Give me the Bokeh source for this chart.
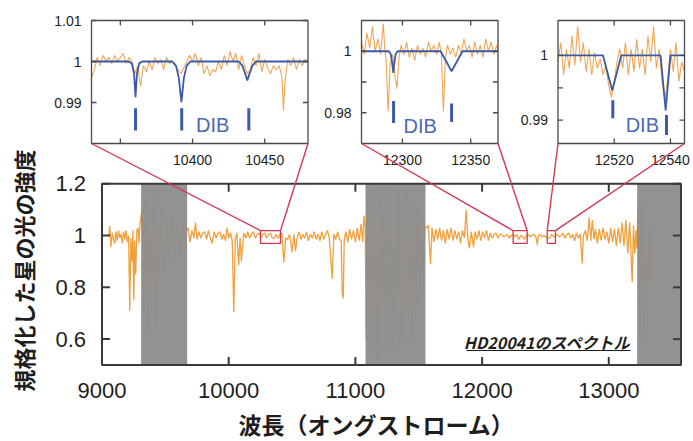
import numpy as np
from bokeh.plotting import figure
from bokeh.models import Range1d
from bokeh.core.properties import value
from bokeh.embed import file_html
from bokeh.resources import INLINE

# ------------------------------------------------------------------ data
# main spectrum (wavelength in Angstrom, normalized flux)
seg_a_wl = [9054, 9062, 9070, 9080, 9090, 9100, 9110, 9120, 9130, 9140, 9150, 9160, 9170, 9180,
            9190, 9200, 9210, 9219, 9228, 9236, 9244, 9251, 9258, 9266, 9275, 9284, 9292, 9300]
seg_a_fx = [1.00, 1.038, 0.955, 1.01, 0.985, 0.97, 1.015, 0.98, 1.02, 0.99, 1.005, 0.97, 1.015, 0.985,
            1.02, 0.975, 1.00, 0.71, 0.99, 0.90, 1.02, 0.75, 0.98, 0.85, 1.02, 1.03, 0.97, 1.045]
band1_wl = [9315, 9330, 9345, 9360, 9375, 9390, 9405, 9420, 9435, 9450, 9470, 9490, 9510, 9530,
            9550, 9570, 9590, 9610, 9630, 9650, 9668]
band1_fx = [1.10, 0.70, 1.15, 0.60, 1.12, 0.75, 1.18, 0.65, 1.05, 0.80, 1.10, 0.85, 1.05, 0.90,
            1.08, 0.88, 1.04, 0.92, 1.06, 0.95, 1.02]
seg_b_wl = [9680, 9695, 9710, 9725, 9738, 9750, 9765, 9780, 9795, 9810, 9825, 9840, 9855, 9870,
            9885, 9900, 9915, 9930, 9945, 9960, 9975, 9988, 10000, 10015, 10028, 10040, 10052,
            10065, 10078, 10090, 10100, 10110, 10120, 10135, 10150, 10165, 10180, 10195, 10210,
            10225, 10240, 10255, 10270, 10285, 10300, 10315, 10330, 10345, 10360, 10375, 10390,
            10405, 10420, 10435, 10450, 10465, 10480, 10501, 10515, 10527, 10540, 10555, 10570,
            10585, 10600, 10615, 10630, 10645, 10660, 10675, 10690, 10705, 10720, 10735, 10750,
            10765, 10780, 10795, 10817, 10830, 10845, 10860, 10875, 10888, 10896, 10904, 10912,
            10925, 10940, 10955, 10970, 10985, 11000, 11015, 11030, 11045, 11058, 11068, 11078]
seg_b_fx = [1.03, 0.975, 1.02, 0.99, 1.05, 0.985, 1.015, 0.99, 1.01, 1.015, 0.985, 1.02, 0.99, 0.97,
            1.015, 0.99, 1.01, 1.015, 0.985, 1.005, 0.98, 1.03, 0.99, 1.01, 0.98, 0.705, 0.99,
            1.01, 0.885, 0.99, 0.90, 0.96, 1.01, 0.99, 1.015, 0.99, 1.005, 1.015, 0.99,
            1.005, 1.01, 0.99, 1.005, 1.01, 0.99, 1.005, 1.01, 0.99, 0.99, 1.005, 0.99,
            1.005, 1.01, 0.897, 0.99, 0.985, 1.005, 0.936, 1.005, 0.94, 0.99, 1.015, 0.985,
            1.005, 0.99, 1.015, 0.98, 1.005, 0.99, 1.015, 0.985, 1.005, 0.98, 1.015, 0.985,
            1.005, 1.02, 0.985, 0.833, 1.005, 0.985, 1.015, 0.985, 0.98, 0.782, 0.757, 0.985,
            1.015, 0.975, 1.025, 0.985, 1.02, 0.975, 1.03, 0.98, 1.045, 0.975, 1.077, 1.03]
band2_wl = [11085, 11100, 11115, 11130, 11145, 11160, 11175, 11190, 11205, 11220, 11235, 11250,
            11265, 11280, 11295, 11310, 11325, 11340, 11355, 11370, 11385, 11400, 11415, 11430,
            11445, 11460, 11475, 11490, 11505, 11520, 11535, 11548]
band2_fx = [0.60, 1.15, 0.55, 1.18, 0.62, 1.12, 0.52, 1.20, 0.58, 1.10, 0.54, 1.16,
            0.60, 1.19, 0.56, 1.12, 0.63, 1.17, 0.55, 1.14, 0.60, 1.18, 0.66, 1.12,
            0.58, 1.15, 0.70, 1.10, 0.75, 1.08, 0.85, 1.03]
seg_c_wl = [11560, 11575, 11593, 11605, 11620, 11635, 11650, 11665, 11680, 11695, 11710, 11725,
            11740, 11755, 11770, 11785, 11800, 11815, 11830, 11845, 11860, 11875, 11888, 11900,
            11915, 11932, 11945, 11960, 11975, 11990, 12005, 12020, 12035, 12050, 12065, 12080,
            12095, 12110, 12125, 12140, 12155, 12170, 12185, 12200, 12215, 12230, 12245, 12260,
            12275, 12290, 12305, 12320, 12335, 12350, 12365, 12380, 12395, 12410, 12425, 12435,
            12445, 12460, 12475, 12490, 12505, 12520, 12535, 12550, 12565, 12580, 12595, 12610,
            12625, 12640, 12655, 12670, 12685, 12700, 12715, 12730, 12745, 12760, 12775, 12790,
            12800, 12815, 12830, 12845, 12858, 12870, 12883, 12895, 12910, 12925, 12940, 12955,
            12970, 12985, 13000, 13015, 13030, 13045, 13060, 13075, 13090, 13105, 13120, 13135,
            13150, 13165, 13185, 13195, 13205, 13215, 13222]
seg_c_fx = [1.03, 1.04, 0.89, 1.03, 0.975, 1.025, 0.985, 1.03, 0.98, 1.02, 0.97, 1.025,
            0.985, 1.03, 0.98, 1.02, 0.985, 1.015, 0.97, 1.02, 0.99, 1.10, 0.985, 0.95,
            1.015, 0.955, 1.015, 0.985, 1.02, 0.98, 1.015, 0.99, 1.02, 0.98, 1.01, 0.99,
            1.005, 1.01, 0.99, 1.005, 1.005, 0.995, 1.00, 1.005, 0.99, 1.00, 1.005, 0.995,
            1.005, 0.985, 1.00, 0.995, 0.985, 1.00, 1.005, 0.995, 1.00, 1.005, 0.995, 0.965,
            1.00, 1.005, 0.995, 1.00, 0.995, 0.99, 0.99, 1.005, 0.995, 1.00, 1.005, 0.995,
            1.00, 1.01, 0.99, 1.005, 1.01, 0.99, 1.005, 0.98, 1.01, 0.99, 1.005, 0.892,
            1.00, 1.02, 0.98, 1.07, 0.98, 1.06, 0.985, 1.025, 0.97, 1.025, 0.98, 1.03,
            0.985, 1.015, 0.97, 1.03, 0.975, 1.025, 0.96, 1.03, 0.97, 1.05, 0.96, 1.06,
            0.93, 1.05, 0.82, 1.04, 0.93, 1.02, 0.95]
band3_wl = [13230, 13245, 13260, 13275, 13290, 13305, 13320, 13335]
band3_fx = [1.12, 0.62, 1.15, 0.58, 1.10, 0.70, 1.05, 0.85]

# telluric (masked) regions
band_start = [9309, 11080, 13224]
band_end = [9672, 11553, 13570]

# zoom boxes drawn on the main spectrum
zoom_x0 = [10251, 12245, 12514]
zoom_x1 = [10409, 12356, 12579]
zoom_y0 = [0.970, 0.970, 0.970]
zoom_y1 = [1.019, 1.019, 1.019]

# main axes ticks
main_xticks = [9000, 10000, 11000, 12000, 13000]
main_xlabels = ["9000", "10000", "11000", "12000", "13000"]
main_yticks = [0.6, 0.8, 1.0, 1.2]
main_ylabels = ["0.6", "0.8", "1", "1.2"]

# inset 1
in1_wl = [10330, 10332, 10334, 10336, 10338, 10340, 10342, 10344, 10346, 10348, 10350, 10352,
          10354, 10356, 10358, 10360, 10362, 10364, 10366, 10368, 10370, 10372, 10374, 10376,
          10378, 10380, 10382, 10384, 10386, 10388, 10390, 10392, 10394, 10396, 10398, 10400,
          10402, 10404, 10406, 10408, 10410, 10412, 10414, 10416, 10418, 10420, 10422, 10424,
          10426, 10428, 10430, 10432, 10434, 10436, 10438, 10440, 10442, 10444, 10446, 10448,
          10450, 10452, 10454, 10456, 10458, 10460, 10462, 10463, 10464, 10466, 10468, 10470,
          10472, 10474, 10476, 10478, 10480]
in1_fx = [0.996, 0.998, 1.001, 0.999, 1.0015, 1.000, 1.001, 0.9995, 1.0015, 1.000, 1.001, 1.002,
          0.9995, 1.001, 1.000, 0.997, 0.999, 0.994, 0.999, 0.9975, 1.000, 0.998, 1.001, 0.9995,
          1.0005, 0.998, 1.001, 0.9995, 1.000, 0.999, 0.998, 0.997, 0.9985, 1.000, 1.0015, 1.000,
          1.002, 0.999, 1.001, 0.997, 0.999, 0.9965, 0.998, 0.9975, 1.000, 0.998, 1.0015, 0.999,
          1.0025, 1.000, 1.002, 0.998, 1.0015, 0.999, 0.997, 0.998, 1.001, 0.999, 1.002, 0.9975,
          1.0005, 0.9985, 0.997, 0.999, 0.998, 0.999, 0.996, 0.988, 0.995, 1.0005, 0.999, 1.001,
          0.998, 1.0005, 0.999, 1.0005, 1.000]
in1_model_wl = [10330, 10356, 10358, 10359.5, 10360.5, 10361.5, 10363, 10365, 10386, 10388.5,
                10390.5, 10392.3, 10394, 10396, 10398.5, 10432, 10434.5, 10436.5, 10438,
                10439.5, 10441.5, 10444, 10480]
in1_model_fx = [1, 1, 0.9995, 0.997, 0.9913, 0.997, 0.9995, 1, 1, 0.999,
                0.996, 0.9901, 0.996, 0.999, 1, 1, 0.999, 0.997, 0.9954,
                0.997, 0.999, 1, 1]
in1_dib = [10360.5, 10392.5, 10439]
in1_dib_lo = [0.9832, 0.9832, 0.9832]
in1_dib_hi = [0.9886, 0.9886, 0.9886]
in1_xticks = [10350, 10400, 10450]
in1_xlabels = ["", "10400", "10450"]
in1_yticks = [0.99, 1.0, 1.01]
in1_ylabels = ["0.99", "1", "1.01"]

# inset 2
in2_wl = [12270, 12272, 12274, 12276, 12278, 12280, 12282, 12284, 12286, 12287, 12288, 12289.5,
          12291, 12293, 12294.5, 12296, 12297.5, 12299, 12301, 12303, 12305, 12307, 12309, 12311,
          12313, 12315, 12317, 12319, 12321, 12323, 12325, 12327, 12328.5, 12330, 12331.5, 12333,
          12335, 12337, 12339, 12341, 12343, 12345, 12347, 12349, 12351, 12353, 12355, 12357,
          12359, 12361, 12363, 12365, 12367, 12369, 12370]
in2_fx = [1.003, 0.999, 1.006, 1.001, 1.008, 1.000, 1.004, 0.999, 1.009, 1.001, 0.997, 0.9805,
          0.996, 0.999, 0.992, 0.9878, 0.998, 1.002, 0.999, 1.003, 0.998, 1.001, 0.997, 1.002,
          0.999, 1.001, 0.998, 1.003, 1.000, 1.002, 0.999, 1.003, 0.999, 0.9805, 0.998, 1.002,
          0.999, 1.001, 0.998, 1.002, 0.999, 1.004, 1.000, 1.002, 0.998, 1.003, 0.999, 1.002,
          0.998, 1.004, 1.000, 1.003, 0.999, 1.002, 1.000]
in2_model_wl = [12270, 12290, 12291.5, 12292.5, 12293.3, 12294, 12295, 12296.5, 12328, 12336,
                12344, 12370]
in2_model_fx = [1, 1, 0.999, 0.996, 0.993, 0.996, 0.999, 1, 1, 0.9935, 1, 1]
in2_dib = [12293.5, 12336]
in2_dib_lo = [0.9767, 0.9770]
in2_dib_hi = [0.9838, 0.9830]
in2_xticks = [12300, 12350]
in2_xlabels = ["12300", "12350"]
in2_yticks = [0.98, 0.99, 1.0]
in2_ylabels = ["0.98", "", "1"]

# inset 3
in3_wl = [12500, 12501, 12502, 12503, 12504, 12505, 12506, 12507, 12508, 12509, 12510, 12511,
          12512, 12513, 12514, 12515, 12516, 12517, 12518, 12519, 12520, 12521, 12522, 12523,
          12524, 12525, 12526, 12527, 12528, 12529, 12530, 12531, 12532, 12533, 12534, 12535,
          12536, 12537, 12538, 12539, 12540, 12541, 12542, 12543, 12544, 12545]
in3_fx = [0.999, 1.002, 0.997, 1.001, 0.998, 1.003, 0.9985, 1.0045, 0.999, 1.002, 0.9975, 1.001,
          0.997, 1.0005, 0.998, 0.9995, 0.997, 0.9985, 0.9955, 0.9935, 0.996, 0.999, 1.001, 0.998,
          1.002, 0.997, 1.001, 0.9975, 1.0025, 0.998, 1.001, 0.997, 1.003, 0.999, 1.0045, 0.998,
          1.001, 0.996, 0.993, 0.9965, 1.001, 0.9975, 1.002, 0.996, 0.999, 0.9975]
in3_model_wl = [12500, 12516, 12519.3, 12522.5, 12536.5, 12538.3, 12540, 12545]
in3_model_fx = [1, 1, 0.9946, 1, 1, 0.9915, 1, 1]
in3_dib = [12519.5, 12538.6]
in3_dib_lo = [0.9903, 0.9877]
in3_dib_hi = [0.9931, 0.9908]
in3_xticks = [12520, 12540]
in3_xlabels = ["12520", "12540"]
in3_yticks = [0.99, 0.995, 1.0]
in3_ylabels = ["0.99", "", "1"]

# ------------------------------------------------------------------ layout
W, H = 693, 441

ORANGE = "#f0a03c"
ORANGE_IN = "#f1a655"
BLUE = "#3d5aa8"
DIB_BLUE = "#4a68b4"
RED = "#d2384e"
GRAY = "#8c8c8c"
TXT = "#1e1e1e"
NUM_FONT = value("Liberation Sans")
JP_FONT = value("Noto Sans CJK JP")


class Panel:
    def __init__(self, name, box, xr, yr):
        L, R, T, B = box
        self.L, self.R, self.T, self.B = L, R, T, B
        self.xr, self.yr = xr, yr
        self.sx = (xr[1] - xr[0]) / (R - L)
        self.sy = (yr[1] - yr[0]) / (B - T)
        self.name = name
        self.kw = dict(x_range_name=name, y_range_name=name)

    def ranges(self):
        return (Range1d(self.xr[0] - self.L * self.sx, self.xr[0] + (W - self.L) * self.sx),
                Range1d(self.yr[0] - (H - self.B) * self.sy, self.yr[1] + self.T * self.sy))

    def px(self, x, y):
        return self.L + (x - self.xr[0]) / self.sx, self.B - (y - self.yr[0]) / self.sy


main = Panel("main", (101.5, 680.5, 183.3, 364.5), (9000, 13570), (0.5, 1.2))
in1 = Panel("in1", (91, 307.5, 20, 143), (10330, 10480), (0.98, 1.01))
in2 = Panel("in2", (361, 497.5, 20, 143), (12270, 12370), (0.97, 1.01))
in3 = Panel("in3", (557.5, 684, 20, 143), (12500, 12545), (0.9864, 1.0054))
panels = [main, in1, in2, in3]

p = figure(width=W, height=H, x_range=Range1d(0, W), y_range=Range1d(H, 0),
           x_axis_type=None, y_axis_type=None, toolbar_location=None,
           output_backend="svg", min_border=0, outline_line_color=None, title=None)
xr_d, yr_d = {}, {}
for pn in panels:
    a, b = pn.ranges()
    xr_d[pn.name] = a
    yr_d[pn.name] = b
p.extra_x_ranges = xr_d
p.extra_y_ranges = yr_d


def frame_and_ticks(pn, xticks, xlabels, yticks, ylabels, tick_len, lw, font_size,
                    xlab_off, ylab_off, color):
    x0, x1 = pn.xr
    y0, y1 = pn.yr
    kw = pn.kw
    n = len(xticks)
    p.ray(x=xticks, y=[y0] * n, length=tick_len, length_units="screen", angle=np.pi / 2,
          line_color=color, line_width=lw, **kw)
    p.ray(x=xticks, y=[y1] * n, length=tick_len, length_units="screen", angle=-np.pi / 2,
          line_color=color, line_width=lw, **kw)
    m = len(yticks)
    p.ray(x=[x0] * m, y=yticks, length=tick_len, length_units="screen", angle=0,
          line_color=color, line_width=lw, **kw)
    p.ray(x=[x1] * m, y=yticks, length=tick_len, length_units="screen", angle=np.pi,
          line_color=color, line_width=lw, **kw)
    p.quad(left=[x0], right=[x1], bottom=[y0], top=[y1], fill_color=None,
           line_color=color, line_width=lw, **kw)
    p.text(x=xticks, y=[y0] * n, text=xlabels, text_font=NUM_FONT, text_font_size=font_size,
           text_align="center", text_baseline="middle", y_offset=xlab_off, text_color=TXT, **kw)
    p.text(x=[x0] * m, y=yticks, text=ylabels, text_font=NUM_FONT, text_font_size=font_size,
           text_align="right", text_baseline="middle", x_offset=ylab_off, text_color=TXT, **kw)


# ---- main panel
main_wl = seg_a_wl + band1_wl + seg_b_wl + band2_wl + seg_c_wl + band3_wl
main_fx = seg_a_fx + band1_fx + seg_b_fx + band2_fx + seg_c_fx + band3_fx
p.line(main_wl, main_fx, line_color=ORANGE, line_width=1.3, **main.kw)
p.quad(left=band_start, right=band_end, bottom=[0.5] * 3, top=[1.2] * 3,
       fill_color=GRAY, fill_alpha=0.95, line_color=None, **main.kw)
frame_and_ticks(main, main_xticks, main_xlabels, main_yticks, main_ylabels, 8, 2,
                "22px", 25, -16, "#3a3a3a")
p.quad(left=zoom_x0, right=zoom_x1, bottom=zoom_y0, top=zoom_y1, fill_color=None,
       line_color=RED, line_width=1.3, **main.kw)

# ---- insets
insets = [
    (in1, in1_wl, in1_fx, in1_model_wl, in1_model_fx, in1_dib, in1_dib_lo, in1_dib_hi,
     in1_xticks, in1_xlabels, in1_yticks, in1_ylabels, (10414, 0.9845)),
    (in2, in2_wl, in2_fx, in2_model_wl, in2_model_fx, in2_dib, in2_dib_lo, in2_dib_hi,
     in2_xticks, in2_xlabels, in2_yticks, in2_ylabels, (12313, 0.9756)),
    (in3, in3_wl, in3_fx, in3_model_wl, in3_model_fx, in3_dib, in3_dib_lo, in3_dib_hi,
     in3_xticks, in3_xlabels, in3_yticks, in3_ylabels, (12530, 0.9892)),
]
for (pn, wl, fx, mwl, mfx, dib, lo, hi, xt, xl, yt, yl, dpos) in insets:
    p.line(wl, fx, line_color=ORANGE_IN, line_width=1.1, **pn.kw)
    p.line(mwl, mfx, line_color=BLUE, line_width=1.8, **pn.kw)
    p.segment(x0=dib, y0=lo, x1=dib, y1=hi, line_color=BLUE, line_width=3, **pn.kw)
    p.text(x=[dpos[0]], y=[dpos[1]], text=["DIB"], text_font=NUM_FONT, text_font_size="20px",
           text_align="center", text_baseline="middle", text_color=DIB_BLUE, **pn.kw)
    frame_and_ticks(pn, xt, xl, yt, yl, 5, 1.3, "14px", 16, -10, "#4a4a4a")

# ---- connecting lines (canvas pixel coordinates)
cx0, cy0, cx1, cy1 = [], [], [], []
for pn, zx0, zx1, zy1 in zip([in1, in2, in3], zoom_x0, zoom_x1, zoom_y1):
    ax, ay = main.px(zx0, zy1)
    bx, by = main.px(zx1, zy1)
    cx0 += [pn.L, pn.R]
    cy0 += [pn.B, pn.B]
    cx1 += [ax, bx]
    cy1 += [ay, by]
p.segment(x0=cx0, y0=cy0, x1=cx1, y1=cy1, line_color=RED, line_width=1.4)

# ---- titles and annotation
p.text(x=[22], y=[270], text=["規格化した星の光の強度"], text_font=JP_FONT, text_font_size="22px",
       text_font_style="bold", angle=np.pi / 2, text_align="center", text_baseline="middle",
       text_color=TXT)
p.text(x=[376], y=[423], text=["波長（オングストローム）"], text_font=JP_FONT, text_font_size="23px",
       text_font_style="bold", text_align="center", text_baseline="middle", text_color=TXT)
p.text(x=[630], y=[341], text=["HD20041のスペクトル"], text_font=JP_FONT, text_font_size="16px",
       text_font_style="bold italic", text_align="right", text_baseline="middle", text_color=TXT)
p.segment(x0=[466], y0=[350], x1=[630], y1=[350], line_color=TXT, line_width=1.2)

open("out.html", "w").write(file_html(p, INLINE))
